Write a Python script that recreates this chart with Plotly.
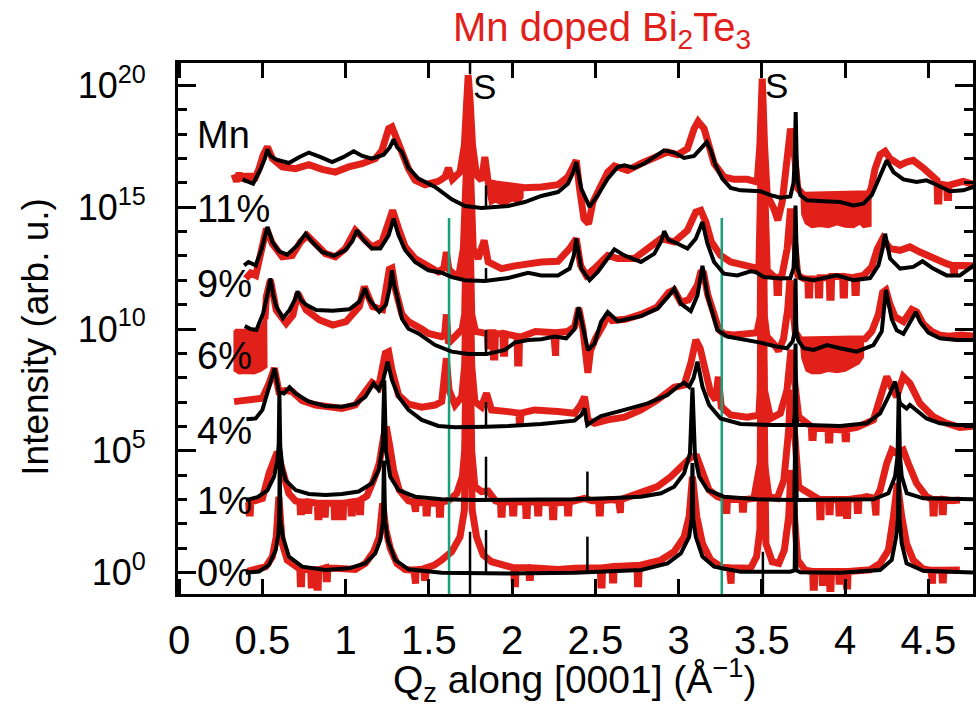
import plotly.graph_objects as go

RED = "#e2201a"
GREEN = "#17a07a"
FONT = "Liberation Sans, Arial, Helvetica, sans-serif"

# ---- axes -----------------------------------------------------------------
x_tick_vals = [0, 0.5, 1, 1.5, 2, 2.5, 3, 3.5, 4, 4.5]
x_tick_text = ["0", "0.5", "1", "1.5", "2", "2.5", "3", "3.5", "4", "4.5"]
y_major_exp = [0, 5, 10, 15, 20]
y_minor_exp = [0, 1, 2, 3, 4, 5, 6, 7, 8, 9, 10, 11, 12, 13, 14, 15, 16, 17, 18, 19, 20]

# ---- sample labels (Mn content) and their vertical position (log10 I) --------
sample_labels = ["Mn", "11%", "9%", "6%", "4%", "1%", "0%"]
sample_label_log = [17.96, 14.94, 11.85, 8.89, 5.81, 2.94, -0.01]

# substrate reflections
substrate_q = [1.836, 3.59]
substrate_log = [19.95, 20.0]

# green reference positions
ref_q = [1.621, 3.259]
ref_top_log = 14.55

# measured scans: (Q_z, log10 intensity), offset per sample
scan_11 = [
    (0.330, 16.35), (0.345, 16.05), (0.360, 16.40), (0.375, 16.10), (0.390, 16.35), (0.410, 16.05),
    (0.430, 16.35), (0.450, 16.10), (0.480, 16.58), (0.504, 17.13), (0.530, 17.47), (0.560, 16.99),
    (0.619, 16.65), (0.699, 16.58), (0.779, 16.74), (0.859, 16.55), (0.938, 16.44), (1.018, 16.65),
    (1.098, 16.78), (1.178, 16.99), (1.218, 17.33), (1.258, 18.22), (1.278, 18.29), (1.308, 17.74),
    (1.338, 17.13), (1.377, 16.58), (1.417, 16.10), (1.477, 15.92), (1.557, 16.06), (1.597, 16.24),
    (1.617, 16.61), (1.641, 16.14), (1.687, 16.44), (1.713, 17.54), (1.727, 19.32), (1.736, 20.41),
    (1.748, 19.32), (1.762, 17.54), (1.786, 16.31), (1.816, 16.10), (1.836, 17.06), (1.856, 16.03),
    (1.900, 15.95), (1.960, 15.90), (2.020, 15.85), (2.076, 15.80), (2.175, 15.83), (2.275, 15.92),
    (2.335, 16.24), (2.375, 16.85), (2.385, 16.92), (2.405, 15.76), (2.431, 14.53), (2.459, 14.32),
    (2.485, 15.21), (2.525, 15.76), (2.574, 16.44), (2.614, 16.69), (2.694, 16.51), (2.774, 16.79),
    (2.854, 16.99), (2.933, 17.26), (2.993, 17.15), (3.053, 17.40), (3.093, 18.22), (3.117, 18.52),
    (3.153, 18.22), (3.183, 17.54), (3.213, 16.79), (3.272, 16.24), (3.332, 16.14), (3.412, 16.14),
    (3.472, 16.03), (3.488, 17.54), (3.502, 20.27), (3.516, 17.54), (3.532, 15.49), (3.572, 14.94),
    (3.596, 14.46), (3.622, 15.21), (3.652, 16.72), (3.672, 18.22), (3.692, 17.40), (3.716, 15.76),
    (3.751, 15.49), (3.850, 15.50), (3.950, 15.52), (4.050, 15.48), (4.140, 15.55), (4.156, 15.76),
    (4.180, 16.58), (4.210, 17.16), (4.240, 17.29), (4.270, 16.99), (4.330, 16.72), (4.369, 16.85),
    (4.409, 16.92), (4.469, 16.61), (4.529, 16.17), (4.552, 16.10), (4.555, 15.25), (4.563, 15.25),
    (4.566, 15.95), (4.610, 15.90), (4.613, 15.40), (4.621, 15.40), (4.624, 15.90), (4.709, 16.06),
    (4.787, 15.90),
]
scan_9 = [
    (0.400, 12.07), (0.430, 12.30), (0.460, 12.20), (0.490, 13.16), (0.524, 14.12), (0.560, 13.50),
    (0.619, 12.96), (0.679, 13.02), (0.729, 13.57), (0.769, 13.84), (0.819, 13.50), (0.879, 13.09),
    (0.938, 12.96), (0.998, 13.30), (1.058, 14.05), (1.098, 13.77), (1.158, 13.37), (1.218, 13.57),
    (1.258, 14.39), (1.282, 14.87), (1.318, 14.12), (1.358, 13.37), (1.417, 12.89), (1.497, 12.59),
    (1.557, 12.34), (1.590, 12.50), (1.605, 13.16), (1.620, 12.45), (1.650, 12.25), (1.680, 12.20),
    (1.707, 13.30), (1.727, 16.85), (1.736, 19.50), (1.748, 16.85), (1.766, 13.30), (1.796, 12.89),
    (1.832, 13.64), (1.856, 12.75), (1.936, 12.48), (2.016, 12.59), (2.096, 12.68), (2.175, 12.75),
    (2.275, 12.78), (2.345, 13.30), (2.385, 13.71), (2.411, 12.61), (2.445, 12.20), (2.495, 12.48),
    (2.574, 13.02), (2.634, 12.89), (2.734, 12.89), (2.814, 13.30), (2.894, 13.71), (2.973, 13.57),
    (3.053, 14.05), (3.103, 14.80), (3.133, 14.87), (3.163, 14.39), (3.197, 13.57), (3.252, 13.02),
    (3.312, 12.75), (3.412, 12.59), (3.482, 12.48), (3.496, 16.85), (3.504, 19.50), (3.512, 16.85),
    (3.532, 12.41), (3.572, 12.15), (3.588, 12.10), (3.591, 11.50), (3.600, 11.50), (3.603, 12.10),
    (3.622, 12.25), (3.652, 13.30), (3.672, 14.94), (3.692, 13.85), (3.716, 12.20), (3.751, 12.07),
    (3.776, 12.05), (3.779, 11.40), (3.787, 11.40), (3.790, 12.05), (3.836, 12.05), (3.839, 11.40),
    (3.847, 11.40), (3.850, 12.10), (3.905, 12.10), (3.908, 11.30), (3.916, 11.30), (3.919, 12.15),
    (3.985, 12.15), (3.988, 11.40), (3.996, 11.40), (3.999, 12.15), (4.056, 12.10), (4.059, 11.50),
    (4.067, 11.50), (4.070, 12.15), (4.110, 12.20), (4.160, 12.55), (4.194, 13.30), (4.226, 13.71),
    (4.270, 13.30), (4.330, 13.23), (4.389, 13.37), (4.449, 13.16), (4.529, 12.89), (4.609, 12.68),
    (4.645, 12.60), (4.648, 12.15), (4.656, 12.15), (4.659, 12.61), (4.787, 12.59),
]
scan_6 = [
    (0.515, 10.40), (0.524, 11.33), (0.548, 12.01), (0.583, 10.78), (0.643, 10.23), (0.683, 10.57),
    (0.713, 11.46), (0.763, 10.78), (0.843, 10.37), (0.922, 10.16), (1.002, 10.30), (1.082, 10.92),
    (1.112, 11.74), (1.162, 10.92), (1.222, 10.80), (1.240, 11.50), (1.262, 12.45), (1.278, 12.50),
    (1.300, 11.60), (1.338, 10.60), (1.377, 10.30), (1.457, 10.00), (1.497, 9.82), (1.577, 9.69),
    (1.595, 9.80), (1.605, 10.60), (1.617, 9.41), (1.657, 9.69), (1.700, 10.00), (1.715, 10.60),
    (1.736, 18.00), (1.757, 10.60), (1.780, 9.90), (1.820, 9.85), (1.852, 9.80), (1.855, 9.30),
    (1.862, 9.30), (1.865, 9.85), (1.885, 9.85), (1.888, 8.85), (1.896, 8.85), (1.899, 9.80),
    (1.945, 9.80), (1.948, 9.00), (1.955, 9.00), (1.958, 9.80), (2.030, 9.70), (2.033, 8.60),
    (2.041, 8.60), (2.044, 9.65), (2.100, 9.80), (2.140, 9.90), (2.250, 9.85), (2.253, 8.90),
    (2.261, 8.90), (2.264, 9.85), (2.335, 9.90), (2.375, 10.10), (2.400, 10.85), (2.425, 10.00),
    (2.440, 9.20), (2.455, 8.20), (2.470, 9.10), (2.500, 9.60), (2.550, 10.20), (2.574, 10.60),
    (2.600, 10.35), (2.680, 10.40), (2.774, 10.60), (2.870, 10.90), (2.940, 11.50), (2.973, 11.60),
    (3.013, 11.10), (3.060, 11.20), (3.113, 11.80), (3.135, 12.40), (3.150, 12.30), (3.175, 11.40),
    (3.213, 10.60), (3.240, 10.00), (3.270, 9.80), (3.330, 9.75), (3.400, 9.80), (3.470, 9.85),
    (3.490, 10.50), (3.502, 18.50), (3.515, 10.50), (3.530, 9.70), (3.570, 9.40), (3.600, 9.10),
    (3.630, 9.60), (3.655, 10.80), (3.668, 12.00), (3.680, 11.00), (3.700, 9.90), (3.730, 9.55),
    (3.850, 9.55), (3.950, 9.55), (4.050, 9.55), (4.120, 9.60), (4.160, 9.90), (4.200, 10.60),
    (4.225, 11.50), (4.245, 11.60), (4.270, 11.00), (4.300, 10.50), (4.350, 10.30), (4.400, 10.80),
    (4.430, 10.70), (4.470, 10.20), (4.520, 9.90), (4.570, 9.75), (4.620, 9.70), (4.700, 9.75),
    (4.787, 9.70),
]
scan_4 = [
    (0.330, 7.02), (0.380, 7.06), (0.440, 7.12), (0.500, 7.16), (0.540, 7.77), (0.572, 8.39),
    (0.599, 7.43), (0.639, 7.47), (0.679, 7.43), (0.739, 7.06), (0.819, 6.88), (0.899, 6.79),
    (0.978, 6.74), (1.058, 6.88), (1.118, 7.43), (1.158, 7.80), (1.198, 7.61), (1.238, 9.00),
    (1.258, 9.07), (1.278, 8.32), (1.318, 7.29), (1.377, 6.92), (1.457, 6.79), (1.537, 6.88),
    (1.577, 7.02), (1.593, 8.04), (1.605, 8.80), (1.621, 7.50), (1.657, 6.88), (1.697, 7.22),
    (1.715, 8.50), (1.736, 16.50), (1.757, 8.50), (1.776, 7.02), (1.816, 6.81), (1.846, 7.36),
    (1.876, 6.68), (1.976, 6.61), (2.040, 6.55), (2.043, 6.20), (2.050, 6.20), (2.053, 6.55),
    (2.135, 6.68), (2.275, 6.61), (2.375, 6.54), (2.411, 6.88), (2.435, 7.22), (2.455, 6.27),
    (2.495, 6.13), (2.574, 6.27), (2.674, 6.38), (2.774, 6.68), (2.873, 7.09), (2.973, 7.61),
    (3.033, 7.70), (3.073, 8.59), (3.103, 9.55), (3.129, 9.21), (3.163, 8.18), (3.193, 7.36),
    (3.222, 7.09), (3.238, 8.04), (3.256, 6.81), (3.312, 6.47), (3.412, 6.38), (3.482, 6.47),
    (3.490, 7.50), (3.502, 17.50), (3.515, 7.50), (3.552, 6.33), (3.611, 6.54), (3.651, 7.50),
    (3.675, 9.14), (3.695, 7.63), (3.721, 6.40), (3.771, 6.13), (3.797, 6.00), (3.800, 5.55),
    (3.808, 5.55), (3.811, 5.95), (3.871, 5.90), (3.897, 5.90), (3.900, 5.45), (3.908, 5.45),
    (3.911, 5.90), (3.970, 5.85), (3.997, 5.85), (4.000, 5.50), (4.008, 5.50), (4.011, 5.90),
    (4.070, 5.96), (4.170, 6.27), (4.220, 7.36), (4.250, 8.05), (4.280, 7.57), (4.310, 7.22),
    (4.349, 8.05), (4.389, 7.77), (4.449, 6.95), (4.529, 6.40), (4.609, 6.13), (4.689, 5.96),
    (4.787, 6.02),
]
scan_1 = [
    (0.410, 2.90), (0.418, 2.90), (0.421, 2.45), (0.427, 2.45), (0.430, 2.90), (0.460, 2.95),
    (0.500, 3.05), (0.540, 4.08), (0.570, 4.76), (0.589, 4.95), (0.609, 4.49), (0.629, 3.94),
    (0.659, 3.25), (0.699, 2.95), (0.725, 2.90), (0.728, 2.50), (0.735, 2.50), (0.738, 2.90),
    (0.770, 2.90), (0.773, 2.55), (0.779, 2.55), (0.782, 2.90), (0.830, 2.85), (0.833, 2.30),
    (0.840, 2.30), (0.843, 2.85), (0.870, 2.85), (0.873, 2.40), (0.878, 2.40), (0.881, 2.85),
    (0.930, 2.85), (0.933, 2.30), (0.940, 2.30), (0.943, 2.85), (0.975, 2.85), (0.978, 2.30),
    (0.985, 2.30), (0.988, 2.85), (1.030, 2.90), (1.033, 2.45), (1.040, 2.45), (1.043, 2.90),
    (1.080, 2.95), (1.083, 2.50), (1.090, 2.50), (1.093, 3.00), (1.128, 3.15), (1.168, 3.80),
    (1.202, 4.49), (1.228, 5.58), (1.244, 5.99), (1.262, 5.31), (1.288, 4.21), (1.322, 3.39),
    (1.377, 2.95), (1.410, 2.90), (1.413, 2.50), (1.420, 2.50), (1.423, 2.90), (1.480, 2.85),
    (1.483, 2.45), (1.490, 2.45), (1.493, 2.85), (1.560, 2.85), (1.563, 2.40), (1.570, 2.40),
    (1.573, 2.90), (1.617, 2.95), (1.667, 3.25), (1.701, 3.94), (1.715, 5.00), (1.736, 14.00),
    (1.757, 5.00), (1.776, 3.53), (1.816, 3.33), (1.856, 3.35), (1.900, 2.95), (1.930, 2.90),
    (1.933, 2.40), (1.940, 2.40), (1.943, 2.90), (2.000, 2.90), (2.003, 2.45), (2.010, 2.45),
    (2.013, 2.90), (2.080, 2.90), (2.083, 2.35), (2.090, 2.35), (2.093, 2.90), (2.150, 2.90),
    (2.153, 2.45), (2.160, 2.45), (2.163, 2.90), (2.240, 2.85), (2.243, 2.30), (2.250, 2.30),
    (2.253, 2.85), (2.330, 2.90), (2.333, 2.45), (2.340, 2.45), (2.343, 2.90), (2.400, 2.95),
    (2.435, 3.05), (2.480, 2.95), (2.520, 2.95), (2.523, 2.45), (2.530, 2.45), (2.533, 2.95),
    (2.600, 3.00), (2.640, 2.95), (2.643, 2.45), (2.650, 2.45), (2.653, 3.00), (2.714, 3.15),
    (2.774, 3.33), (2.873, 3.53), (2.953, 3.94), (3.013, 4.35), (3.053, 4.69), (3.077, 4.76),
    (3.109, 4.76), (3.143, 4.21), (3.183, 3.39), (3.233, 3.12), (3.280, 3.00), (3.283, 2.55),
    (3.290, 2.55), (3.293, 3.00), (3.380, 3.00), (3.383, 2.60), (3.390, 2.60), (3.393, 3.00),
    (3.452, 3.05), (3.490, 4.50), (3.502, 15.00), (3.515, 4.50), (3.542, 3.12), (3.592, 3.05),
    (3.632, 3.80), (3.661, 5.86), (3.672, 7.50), (3.695, 5.86), (3.721, 3.53), (3.751, 3.39),
    (3.811, 3.12), (3.845, 3.00), (3.848, 2.30), (3.855, 2.30), (3.858, 3.00), (3.900, 3.00),
    (3.903, 2.50), (3.910, 2.50), (3.913, 3.00), (3.960, 3.00), (3.963, 2.45), (3.970, 2.45),
    (3.973, 3.00), (4.005, 3.00), (4.008, 2.35), (4.015, 2.35), (4.018, 3.00), (4.070, 3.05),
    (4.073, 2.55), (4.080, 2.55), (4.083, 3.05), (4.130, 3.12), (4.175, 3.05), (4.178, 2.35),
    (4.185, 2.35), (4.188, 3.10), (4.210, 3.39), (4.250, 4.49), (4.280, 5.03), (4.310, 4.90),
    (4.349, 5.03), (4.379, 4.49), (4.429, 3.67), (4.489, 3.12), (4.525, 3.00), (4.528, 2.45),
    (4.535, 2.45), (4.538, 3.00), (4.580, 3.00), (4.583, 2.50), (4.590, 2.50), (4.593, 3.00),
    (4.640, 2.95), (4.689, 2.98),
]
scan_0 = [
    (0.410, 0.05), (0.460, 0.15), (0.520, 0.25), (0.560, 0.66), (0.583, 1.47), (0.599, 3.12),
    (0.619, 1.20), (0.649, 0.52), (0.699, 0.22), (0.725, 0.15), (0.728, -0.45), (0.735, -0.45),
    (0.738, 0.15), (0.790, 0.12), (0.793, -0.50), (0.800, -0.50), (0.803, 0.12), (0.825, 0.12),
    (0.828, -0.60), (0.835, -0.60), (0.838, 0.12), (0.880, 0.20), (0.883, -0.25), (0.890, -0.25),
    (0.893, 0.20), (0.978, 0.18), (1.058, 0.13), (1.118, 0.38), (1.168, 0.86), (1.202, 1.47),
    (1.222, 2.85), (1.242, 1.75), (1.268, 1.00), (1.308, 0.38), (1.358, 0.13), (1.410, 0.10),
    (1.413, -0.45), (1.420, -0.45), (1.423, 0.12), (1.470, 0.15), (1.473, -0.20), (1.480, -0.20),
    (1.483, 0.20), (1.530, 0.30), (1.577, 0.52), (1.637, 0.86), (1.687, 1.47), (1.713, 2.57),
    (1.736, 12.00), (1.760, 2.57), (1.786, 1.47), (1.826, 0.73), (1.876, 0.45), (1.976, 0.25),
    (2.010, 0.20), (2.013, -0.45), (2.020, -0.45), (2.023, 0.20), (2.100, 0.20), (2.103, -0.20),
    (2.110, -0.20), (2.113, 0.20), (2.175, 0.18), (2.275, 0.13), (2.375, 0.18), (2.475, 0.20),
    (2.530, 0.20), (2.533, -0.50), (2.540, -0.50), (2.543, 0.20), (2.600, 0.25), (2.603, -0.30),
    (2.610, -0.30), (2.613, 0.25), (2.674, 0.30), (2.750, 0.30), (2.753, -0.45), (2.760, -0.45),
    (2.763, 0.30), (2.800, 0.35), (2.894, 0.52), (2.973, 0.86), (3.033, 1.47), (3.063, 2.30),
    (3.083, 3.94), (3.109, 2.30), (3.143, 1.20), (3.193, 0.52), (3.262, 0.22), (3.305, 0.20),
    (3.308, -0.45), (3.315, -0.45), (3.318, 0.20), (3.432, 0.18), (3.468, 0.66), (3.488, 1.75),
    (3.502, 13.00), (3.524, 1.20), (3.562, 0.45), (3.602, 0.38), (3.635, 0.93), (3.661, 2.30),
    (3.675, 4.21), (3.691, 2.30), (3.715, 0.52), (3.760, 0.10), (3.805, 0.05), (3.808, -0.60),
    (3.815, -0.60), (3.818, 0.05), (3.860, 0.05), (3.863, -0.40), (3.870, -0.40), (3.873, 0.05),
    (3.905, 0.05), (3.908, -0.65), (3.915, -0.65), (3.918, 0.05), (3.960, 0.05), (3.963, -0.35),
    (3.970, -0.35), (3.973, 0.05), (4.005, 0.05), (4.008, -0.55), (4.015, -0.55), (4.018, 0.05),
    (4.070, 0.08), (4.150, 0.12), (4.210, 0.38), (4.260, 0.93), (4.290, 2.30), (4.314, 3.67),
    (4.340, 2.30), (4.369, 1.20), (4.409, 0.52), (4.469, 0.15), (4.515, 0.10), (4.518, -0.45),
    (4.525, -0.45), (4.528, 0.10), (4.580, 0.10), (4.583, -0.30), (4.590, -0.30), (4.593, 0.10),
    (4.649, 0.08), (4.689, 0.11),
]

# regions where the scans scatter densely: outlines as (Q_z, log10 intensity)
dense_11a = [
    (1.856, 16.05), (1.960, 15.95), (2.060, 15.85), (2.060, 15.40), (2.040, 15.20), (2.000, 15.30),
    (1.950, 15.10), (1.900, 15.25), (1.870, 15.15), (1.856, 15.60),
]
dense_11b = [
    (3.740, 15.55), (3.850, 15.55), (3.950, 15.55), (4.050, 15.50), (4.150, 15.60), (4.150, 14.25),
    (4.110, 14.20), (4.090, 14.35), (4.050, 14.20), (4.000, 14.22), (3.950, 14.32), (3.900, 14.20),
    (3.850, 14.25), (3.800, 14.20), (3.765, 14.35), (3.745, 14.70),
]
dense_6a = [
    (0.335, 9.95), (0.400, 9.95), (0.460, 9.95), (0.495, 10.10), (0.520, 10.50), (0.522, 8.45),
    (0.490, 8.30), (0.450, 8.20), (0.400, 8.22), (0.360, 8.20), (0.335, 8.30),
]
dense_6b = [
    (3.735, 9.60), (3.850, 9.55), (3.950, 9.55), (4.050, 9.55), (4.105, 9.60), (4.105, 8.85),
    (4.080, 8.60), (4.040, 8.45), (4.000, 8.30), (3.950, 8.25), (3.900, 8.30), (3.850, 8.20),
    (3.800, 8.20), (3.770, 8.30), (3.745, 8.80),
]

# model fits: (Q_z, log10 intensity)
fit_11 = [
    (0.380, 16.14), (0.444, 15.96), (0.490, 16.58), (0.515, 17.00), (0.530, 17.37), (0.548, 17.10),
    (0.580, 16.96), (0.659, 16.81), (0.720, 17.05), (0.779, 17.24), (0.850, 17.05), (0.919, 16.85),
    (0.985, 17.05), (1.048, 17.29), (1.100, 17.10), (1.158, 16.99), (1.228, 17.15), (1.265, 17.45),
    (1.288, 17.78), (1.310, 17.45), (1.338, 17.26), (1.377, 16.61), (1.437, 16.17), (1.537, 15.83),
    (1.637, 15.32), (1.717, 15.05), (1.816, 14.97), (1.976, 15.05), (2.076, 15.21), (2.175, 15.46),
    (2.275, 15.62), (2.335, 15.96), (2.365, 16.40), (2.385, 16.85), (2.415, 15.76), (2.465, 15.01),
    (2.514, 15.49), (2.574, 16.17), (2.634, 16.65), (2.674, 16.72), (2.734, 16.61), (2.794, 16.79),
    (2.854, 17.06), (2.913, 17.33), (2.973, 17.24), (3.033, 17.02), (3.093, 17.10), (3.143, 17.47),
    (3.169, 17.67), (3.193, 17.33), (3.222, 16.72), (3.262, 16.17), (3.312, 15.79), (3.372, 15.69),
    (3.492, 15.65), (3.552, 15.49), (3.611, 15.39), (3.671, 15.44), (3.690, 16.00), (3.697, 16.90),
    (3.703, 18.90), (3.709, 16.90), (3.716, 16.00), (3.731, 15.49), (3.771, 15.28), (3.871, 15.24),
    (3.970, 15.21), (4.050, 15.07), (4.110, 15.14), (4.160, 15.49), (4.210, 16.31), (4.250, 16.92),
    (4.290, 16.44), (4.350, 16.14), (4.429, 16.03), (4.489, 16.10), (4.549, 15.92), (4.629, 15.65),
    (4.709, 15.69), (4.787, 15.87),
]
fit_9 = [
    (0.390, 12.61), (0.416, 12.75), (0.460, 12.61), (0.496, 13.30), (0.530, 14.19), (0.560, 13.57),
    (0.599, 13.19), (0.649, 13.05), (0.709, 13.43), (0.759, 13.91), (0.799, 13.57), (0.859, 13.16),
    (0.929, 13.00), (0.998, 13.23), (1.040, 13.60), (1.068, 14.05), (1.108, 13.64), (1.158, 13.30),
    (1.208, 13.30), (1.258, 13.84), (1.288, 14.53), (1.318, 13.84), (1.358, 13.23), (1.417, 12.75),
    (1.497, 12.41), (1.577, 12.31), (1.637, 12.13), (1.717, 12.00), (1.836, 11.97), (1.976, 12.09),
    (2.096, 12.31), (2.175, 12.20), (2.275, 12.20), (2.345, 12.48), (2.370, 13.00), (2.385, 13.71),
    (2.415, 12.48), (2.465, 12.00), (2.514, 12.34), (2.574, 12.89), (2.614, 13.27), (2.674, 13.02),
    (2.774, 12.75), (2.854, 13.09), (2.895, 13.60), (2.913, 14.01), (2.940, 13.65), (2.973, 13.57),
    (3.053, 13.30), (3.103, 13.71), (3.143, 14.39), (3.173, 13.50), (3.213, 12.75), (3.272, 12.27),
    (3.352, 12.20), (3.432, 12.37), (3.462, 12.34), (3.512, 12.13), (3.611, 12.07), (3.671, 12.09),
    (3.690, 12.50), (3.697, 13.60), (3.702, 15.07), (3.707, 13.60), (3.714, 12.50), (3.731, 12.09),
    (3.811, 12.00), (3.951, 12.20), (4.050, 12.00), (4.150, 12.09), (4.200, 12.61), (4.225, 13.30),
    (4.240, 13.91), (4.270, 12.89), (4.330, 12.48), (4.409, 12.55), (4.465, 12.78), (4.529, 12.48),
    (4.609, 12.20), (4.689, 12.20), (4.787, 12.68),
]
fit_6 = [
    (0.394, 10.12), (0.430, 10.00), (0.464, 9.96), (0.504, 10.64), (0.530, 11.40), (0.548, 12.08),
    (0.565, 11.40), (0.583, 10.92), (0.623, 10.44), (0.663, 10.78), (0.695, 11.20), (0.711, 11.55),
    (0.730, 11.20), (0.763, 10.99), (0.823, 10.78), (0.922, 10.75), (1.022, 10.81), (1.082, 11.12),
    (1.100, 11.40), (1.116, 11.67), (1.135, 11.30), (1.152, 11.12), (1.202, 10.71), (1.242, 10.99),
    (1.265, 11.70), (1.278, 12.41), (1.292, 11.80), (1.308, 11.38), (1.338, 10.42), (1.377, 10.01),
    (1.437, 9.82), (1.537, 9.34), (1.637, 9.07), (1.736, 8.97), (1.846, 8.97), (1.956, 9.14),
    (2.016, 9.44), (2.096, 9.55), (2.175, 9.58), (2.255, 9.69), (2.325, 9.62), (2.375, 10.00),
    (2.399, 10.90), (2.425, 10.00), (2.455, 9.14), (2.495, 9.41), (2.534, 10.29), (2.574, 10.70),
    (2.634, 10.32), (2.774, 10.53), (2.873, 10.84), (2.943, 11.38), (2.973, 11.66), (3.013, 11.04),
    (3.073, 10.73), (3.113, 11.38), (3.143, 12.59), (3.173, 11.38), (3.213, 10.42), (3.233, 9.96),
    (3.292, 9.69), (3.412, 9.55), (3.492, 9.44), (3.572, 9.30), (3.651, 9.21), (3.685, 9.50),
    (3.697, 9.90), (3.702, 12.07), (3.707, 9.90), (3.721, 9.50), (3.751, 9.21), (3.811, 9.14),
    (3.891, 9.34), (3.970, 9.21), (4.070, 9.07), (4.170, 9.34), (4.220, 9.90), (4.245, 11.60),
    (4.260, 11.00), (4.280, 10.40), (4.310, 9.95), (4.350, 9.80), (4.400, 10.40), (4.425, 10.70),
    (4.450, 10.30), (4.500, 9.85), (4.569, 9.62), (4.669, 9.55), (4.787, 9.55),
]
fit_4 = [
    (0.404, 6.30), (0.460, 6.33), (0.500, 6.68), (0.544, 7.63), (0.573, 8.39), (0.599, 7.43),
    (0.629, 7.36), (0.663, 7.61), (0.699, 7.36), (0.779, 7.02), (0.879, 6.84), (0.978, 6.81),
    (1.058, 6.92), (1.118, 7.22), (1.168, 7.77), (1.198, 7.50), (1.225, 7.90), (1.252, 8.66),
    (1.278, 7.91), (1.318, 7.22), (1.377, 6.68), (1.457, 6.27), (1.557, 6.02), (1.657, 5.97),
    (1.776, 5.97), (1.846, 5.99), (1.976, 6.02), (2.175, 6.10), (2.375, 6.24), (2.415, 6.47),
    (2.435, 6.74), (2.451, 6.06), (2.495, 6.27), (2.534, 6.43), (2.674, 6.68), (2.814, 6.95),
    (2.933, 7.29), (2.993, 7.63), (3.033, 7.80), (3.063, 7.63), (3.090, 8.00), (3.113, 8.66),
    (3.143, 7.63), (3.183, 6.88), (3.252, 6.33), (3.372, 6.10), (3.572, 6.06), (3.691, 6.06),
    (3.697, 6.50), (3.702, 9.40), (3.707, 6.50), (3.713, 6.06), (3.771, 6.06), (3.970, 6.02),
    (4.130, 6.13), (4.210, 6.54), (4.260, 7.22), (4.300, 7.84), (4.330, 6.95), (4.369, 6.74),
    (4.389, 6.88), (4.429, 6.68), (4.489, 6.33), (4.569, 6.13), (4.669, 6.06), (4.787, 6.06),
]
fit_1 = [
    (0.400, 2.98), (0.470, 3.10), (0.530, 3.38), (0.570, 3.94), (0.590, 4.60), (0.598, 5.30),
    (0.602, 7.40), (0.607, 5.20), (0.620, 4.30), (0.639, 3.80), (0.699, 3.39), (0.779, 3.23),
    (0.879, 3.19), (0.978, 3.23), (1.078, 3.33), (1.158, 3.67), (1.198, 4.21), (1.222, 5.20),
    (1.232, 7.90), (1.242, 5.00), (1.268, 3.94), (1.318, 3.39), (1.417, 3.12), (1.577, 3.01),
    (1.776, 2.98), (1.976, 2.98), (2.375, 3.01), (2.574, 3.05), (2.774, 3.12), (2.894, 3.26),
    (2.973, 3.53), (3.033, 4.08), (3.068, 4.90), (3.083, 7.60), (3.098, 4.80), (3.123, 3.95),
    (3.173, 3.40), (3.272, 3.12), (3.472, 3.01), (3.695, 2.98), (3.702, 6.60), (3.709, 2.98),
    (3.871, 2.98), (4.170, 3.01), (4.260, 3.26), (4.300, 3.95), (4.315, 4.80), (4.322, 7.40),
    (4.329, 4.80), (4.340, 3.95), (4.370, 3.26), (4.469, 3.05), (4.787, 3.01),
]
fit_0 = [
    (0.400, 0.00), (0.480, 0.05), (0.540, 0.32), (0.580, 0.93), (0.596, 1.60), (0.601, 2.30),
    (0.604, 4.60), (0.608, 2.20), (0.623, 1.47), (0.659, 0.66), (0.739, 0.25), (0.879, 0.11),
    (1.018, 0.18), (1.118, 0.38), (1.178, 0.79), (1.208, 1.34), (1.224, 2.10), (1.230, 4.60),
    (1.237, 2.10), (1.255, 1.30), (1.298, 0.52), (1.377, 0.14), (1.577, 0.00), (1.976, -0.03),
    (2.375, 0.00), (2.774, 0.11), (2.933, 0.38), (3.013, 0.79), (3.063, 1.47), (3.078, 2.20),
    (3.083, 4.50), (3.088, 2.20), (3.103, 1.47), (3.143, 0.66), (3.213, 0.25), (3.372, 0.04),
    (3.671, 0.04), (3.697, 0.10), (3.702, 3.60), (3.707, 0.10), (3.731, 0.02), (3.970, 0.00),
    (4.210, 0.11), (4.280, 0.52), (4.306, 1.47), (4.317, 2.20), (4.322, 4.50), (4.327, 2.20),
    (4.340, 1.20), (4.369, 0.38), (4.469, 0.08), (4.787, 0.00),
]

# short black reflection markers: (Q_z, log10 lower end, log10 upper end)
marker_lines = [
    (1.843, 14.97, 15.90), (1.843, 11.97, 12.50), (1.843, 8.97, 9.96), (1.843, 5.99, 7.00),
    (1.843, 3.00, 4.76), (1.843, 0.00, 1.75), (2.452, 3.00, 4.15), (2.452, 0.00, 1.48),
    (1.747, -1.00, 1.68), (3.506, -1.00, 0.86), (1.747, 20.45, 21.00),
]

scans = [scan_11, scan_9, scan_6, scan_4, scan_1, scan_0]
dense_regions = [dense_11a, dense_11b, dense_6a, dense_6b]
fits = [fit_11, fit_9, fit_6, fit_4, fit_1, fit_0]


def split(pairs):
    return [p[0] for p in pairs], [10.0 ** p[1] for p in pairs]


fig = go.Figure()

for d in dense_regions:
    q, y = split(d + d[:1])
    fig.add_trace(go.Scatter(x=q, y=y, mode="lines", fill="toself", fillcolor=RED,
                             line=dict(color=RED, width=3), hoverinfo="skip"))

for s in scans:
    q, y = split(s)
    fig.add_trace(go.Scatter(x=q, y=y, mode="lines",
                             line=dict(color=RED, width=7), hoverinfo="skip"))

for rq in ref_q:
    fig.add_trace(go.Scatter(x=[rq, rq], y=[10.0 ** -1.0, 10.0 ** ref_top_log], mode="lines",
                             line=dict(color=GREEN, width=2.5), hoverinfo="skip"))

for f in fits:
    q, y = split(f)
    fig.add_trace(go.Scatter(x=q, y=y, mode="lines",
                             line=dict(color="black", width=4), hoverinfo="skip"))

for mq, lo, hi in marker_lines:
    fig.add_trace(go.Scatter(x=[mq, mq], y=[10.0 ** lo, 10.0 ** hi], mode="lines",
                             line=dict(color="black", width=2.5), hoverinfo="skip"))

annotations = []
for text, ly in zip(sample_labels, sample_label_log):
    annotations.append(dict(x=0.095, y=ly, xref="x", yref="y", text=text, showarrow=False,
                            xanchor="left", yanchor="middle",
                            font=dict(family=FONT, size=38, color="black")))
for sq, sl in zip(substrate_q, substrate_log):
    annotations.append(dict(x=sq, y=sl, xref="x", yref="y", text="S", showarrow=False,
                            xanchor="center", yanchor="middle",
                            font=dict(family=FONT, size=35, color="black")))

annotations.append(dict(x=0.533, y=1.062, xref="paper", yref="paper",
                        text="Mn doped Bi<sub>2</sub>Te<sub>3</sub>", showarrow=False,
                        xanchor="center", yanchor="middle",
                        font=dict(family=FONT, size=40, color=RED)))
annotations.append(dict(x=0.499, y=-0.162, xref="paper", yref="paper",
                        text="Q<sub>z</sub> along [0001] (Å<sup>−1</sup>)", showarrow=False,
                        xanchor="center", yanchor="middle",
                        font=dict(family=FONT, size=39, color="black")))
annotations.append(dict(x=-0.179, y=0.484, xref="paper", yref="paper",
                        text="Intensity (arb. u.)", showarrow=False, textangle=-90,
                        xanchor="center", yanchor="middle",
                        font=dict(family=FONT, size=37, color="black")))

fig.update_layout(
    width=979, height=710,
    margin=dict(l=178, r=3, t=63, b=116),
    paper_bgcolor="white", plot_bgcolor="white",
    showlegend=False,
    font=dict(family=FONT, size=34, color="black"),
    annotations=annotations,
    xaxis=dict(
        range=[-0.007, 4.768],
        tickmode="array", tickvals=x_tick_vals, ticktext=x_tick_text,
        ticks="inside", ticklen=15, tickwidth=2.5, tickcolor="black",
        showline=True, linewidth=3, linecolor="black", mirror="ticks",
        showgrid=False, zeroline=False,
        tickfont=dict(family=FONT, size=40, color="black"),
        ticklabelstandoff=9,
    ),
    yaxis=dict(
        type="log", range=[-0.874, 20.915],
        tickmode="array", tickvals=[10.0 ** e for e in y_major_exp],
        ticktext=["10<sup>%d</sup>" % e for e in y_major_exp],
        ticks="inside", ticklen=18, tickwidth=2.5, tickcolor="black",
        minor=dict(tickmode="array", tickvals=[10.0 ** e for e in y_minor_exp],
                   ticks="inside", ticklen=9, tickwidth=2.5, tickcolor="black"),
        showline=True, linewidth=3, linecolor="black", mirror="ticks",
        showgrid=False, zeroline=False,
        tickfont=dict(family=FONT, size=36, color="black"),
        ticklabelstandoff=22,
    ),
)

fig.write_html("out.html")
